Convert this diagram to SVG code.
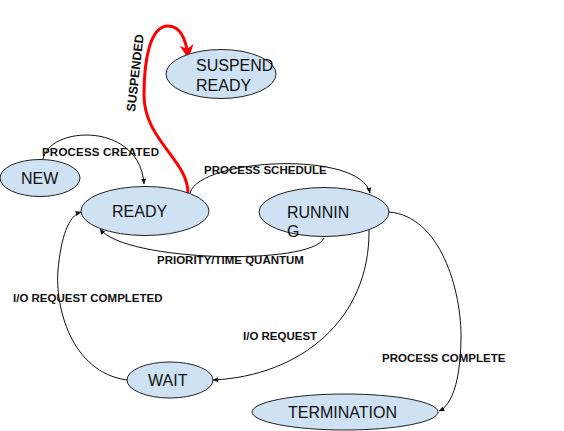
<svg xmlns="http://www.w3.org/2000/svg" width="564" height="431" viewBox="0 0 564 431">
<style>
.node ellipse{fill:#cfe2f3;stroke:#222;stroke-width:1}
.node text{font-family:"Liberation Sans",Arial,sans-serif;font-size:16px;fill:#111}
.conn path{fill:none;stroke:#111;stroke-width:1}
.lbl{font-family:"Liberation Sans",Arial,sans-serif;font-size:11.5px;font-weight:bold;fill:#111}
</style>
<defs>
<marker id="arr" viewBox="0 0 10 10" refX="9" refY="5" markerWidth="6" markerHeight="6" orient="auto" markerUnits="userSpaceOnUse">
<path d="M0,1 L10,5 L0,9 Z" fill="#111"/>
</marker>
<marker id="arrRed" viewBox="0 0 10 10" refX="8" refY="5" markerWidth="14" markerHeight="14" orient="auto" markerUnits="userSpaceOnUse">
<path d="M0,0 L10,5 L0,10 L3,5 Z" fill="#f00"/>
</marker>
</defs>
<rect width="564" height="431" fill="#fff"/>
<g id="connectors" class="conn">
<path d="M43 159 C50 125 140 122 144 184" marker-end="url(#arr)"/>
<path d="M190 193 C200 158 360 150 370 193" marker-end="url(#arr)"/>
<path d="M324 238 C312 266 125 262 100 229" marker-end="url(#arr)"/>
<path d="M127 380 C70 372 55 305 58 270 C61 238 68 216 81 212" marker-end="url(#arr)"/>
<path d="M369 230 C370 320 300 376 213 380" marker-end="url(#arr)"/>
<path d="M389 212 C440 216 462 290 461 340 C460 382 452 405 439 411" marker-end="url(#arr)"/>
<path d="M188 193 C188 160 144 140 144 95 C144 60 150 26 168 26 C181 26 186 40 188 56" style="stroke:#f00;stroke-width:3" marker-end="url(#arrRed)"/>
</g>
<g id="node-suspend-ready" class="node">
<ellipse cx="221" cy="74" rx="55" ry="24.5"/>
<text x="196" y="71">SUSPEND</text>
<text x="196" y="91">READY</text>
</g>
<g id="node-new" class="node">
<ellipse cx="40" cy="178" rx="40" ry="18.5"/>
<text x="21" y="184">NEW</text>
</g>
<g id="node-ready" class="node">
<ellipse cx="145" cy="211" rx="64" ry="24.5"/>
<text x="112" y="217">READY</text>
</g>
<g id="node-running" class="node">
<ellipse cx="324" cy="212" rx="65" ry="24.5"/>
<text x="287" y="218">RUNNIN</text>
<text x="287" y="237">G</text>
</g>
<g id="node-wait" class="node">
<ellipse cx="170" cy="380" rx="43" ry="18"/>
<text x="148" y="386">WAIT</text>
</g>
<g id="node-termination" class="node">
<ellipse cx="345" cy="412" rx="93" ry="18"/>
<text x="288" y="418">TERMINATION</text>
</g>
<g id="labels">
<text class="lbl" x="42" y="156" textLength="117">PROCESS CREATED</text>
<text class="lbl" x="204" y="174">PROCESS SCHEDULE</text>
<text class="lbl" x="157" y="264">PRIORITY/TIME QUANTUM</text>
<text class="lbl" x="13" y="302">I/O REQUEST COMPLETED</text>
<text class="lbl" x="243" y="340">I/O REQUEST</text>
<text class="lbl" x="382" y="362">PROCESS COMPLETE</text>
<text class="lbl" style="font-size:12.5px" transform="translate(135 112) rotate(-83.5)">SUSPENDED</text>
</g>
</svg>
